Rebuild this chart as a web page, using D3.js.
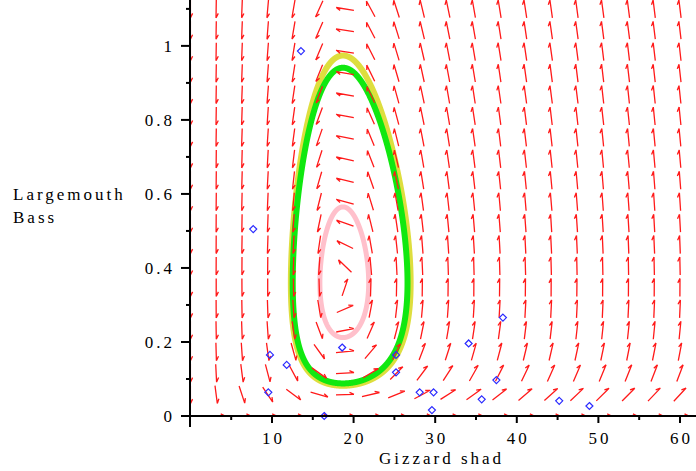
<!DOCTYPE html>
<html>
<head>
<meta charset="utf-8">
<script src="https://cdn.jsdelivr.net/npm/d3@7"></script>
<style>
  html, body { margin: 0; padding: 0; background: #fff; }
  svg text { font-family: "Liberation Serif", "Times New Roman", serif; font-size: 17px; fill: #000; letter-spacing: 3px; }
</style>
</head>
<body>
<svg id="chart" width="696" height="471"></svg>
<script>
// observed counts (blue diamonds)
const shad = [13.55, 7.7, 9.75, 11.8, 9.55, 16.4, 18.6, 25.2, 25.2, 28.1, 29.8, 29.6, 34.1, 35.7, 37.5, 38.3, 45.2, 48.9];
const bass = [0.986, 0.505, 0.165, 0.138, 0.064, 0.0, 0.185, 0.165, 0.118, 0.064, 0.064, 0.016, 0.196, 0.045, 0.097, 0.266, 0.041, 0.027];

// predator-prey model: dG = G(a - bB), dB = B(-c + dG)
const shadStar = 18.7, bassStar = 0.36;
const a = 1, c = 9.3;
const b = a / bassStar, d = c / shadStar;

// start points of the three solution curves (at G = shadStar)
const orbitStartB = [0.974, 0.941, 0.565];
const orbitColor = ['#dede3e', '#10e810', '#ffc0cb'];
const orbitWidth = [6, 6, 5];

const xMajor = [10, 20, 30, 40, 50, 60];
const xMinor = [5, 15, 25, 35, 45, 55];
const yMajor = [0, 0.2, 0.4, 0.6, 0.8, 1];
const yMinor = [0.1, 0.3, 0.5, 0.7, 0.9, 1.1];
const yLabels = ['0', '0.2', '0.4', '0.6', '0.8', '1'];

const svg = d3.select('#chart');
const x = d3.scaleLinear().domain([0, 62]).range([190.4, 696.3]);
const y = d3.scaleLinear().domain([0, 1.124]).range([416, 0]);

function deriv(G, B) {
  return [G * (a - b * B), B * (-c + d * G)];
}

function orbit(G0, B0) {
  let G = G0, B = B0, dt = 0.0005;
  const pts = [[G, B]];
  let prev = Math.atan2(B / bassStar - 1, G / shadStar - 1), turned = 0;
  for (let k = 0; k < 60000; k++) {
    const k1 = deriv(G, B);
    const k2 = deriv(G + dt / 2 * k1[0], B + dt / 2 * k1[1]);
    const k3 = deriv(G + dt / 2 * k2[0], B + dt / 2 * k2[1]);
    const k4 = deriv(G + dt * k3[0], B + dt * k3[1]);
    G += dt / 6 * (k1[0] + 2 * k2[0] + 2 * k3[0] + k4[0]);
    B += dt / 6 * (k1[1] + 2 * k2[1] + 2 * k3[1] + k4[1]);
    pts.push([G, B]);
    const th = Math.atan2(B / bassStar - 1, G / shadStar - 1);
    let dth = th - prev;
    if (dth > Math.PI) dth -= 2 * Math.PI;
    if (dth < -Math.PI) dth += 2 * Math.PI;
    turned += dth; prev = th;
    if (Math.abs(turned) >= 2 * Math.PI) break;
  }
  return pts;
}

const line = d3.line().x(p => x(p[0])).y(p => y(p[1]));

// solution curves
orbitStartB.forEach((B0, i) => {
  svg.append('path')
    .attr('d', line(orbit(shadStar, B0)) + 'Z')
    .attr('fill', 'none')
    .attr('stroke', orbitColor[i])
    .attr('stroke-width', orbitWidth[i])
    .attr('stroke-linejoin', 'round');
});

// direction field, 20 x 20 grid over 0..60, 0..1.1
const gridX = d3.range(20).map(i => i * 60 / 19);
const gridY = d3.range(20).map(j => j * 1.1 / 19);
const kx = x(1) - x(0), ky = y(0) - y(1);
const L = 18;
let field = '';
gridX.forEach(G => {
  gridY.forEach(B => {
    const v = deriv(G, B);
    const vx = v[0] * kx, vy = -v[1] * ky;
    const n = Math.hypot(vx, vy);
    if (n === 0) return;
    const ux = vx / n, uy = vy / n;
    const px = x(G), py = y(B);
    const tx = px + ux * L / 2, ty = py + uy * L / 2;
    const sx = px - ux * L / 2, sy = py - uy * L / 2;
    const bx = tx - ux * 4.5 + uy * 2.2, by = ty - uy * 4.5 - ux * 2.2;
    field += `M${sx.toFixed(1)},${sy.toFixed(1)}L${tx.toFixed(1)},${ty.toFixed(1)}M${tx.toFixed(1)},${ty.toFixed(1)}L${bx.toFixed(1)},${by.toFixed(1)}`;
  });
});
svg.append('path')
  .attr('d', field)
  .attr('fill', 'none')
  .attr('stroke', '#ff1a1a')
  .attr('stroke-width', 1.3);

// data points
svg.selectAll('path.pt')
  .data(shad.map((s, i) => [s, bass[i]]))
  .enter().append('path')
  .attr('class', 'pt')
  .attr('transform', p => `translate(${x(p[0])},${y(p[1])})`)
  .attr('d', 'M0,-3.5L3.5,0L0,3.5L-3.5,0Z')
  .attr('fill', 'none')
  .attr('stroke', '#2a2aff')
  .attr('stroke-width', 1.2);

// axes
const ax = svg.append('g').attr('stroke', '#000').attr('stroke-width', 2);
ax.append('line').attr('x1', 190).attr('x2', 190).attr('y1', 0).attr('y2', 427);
ax.append('line').attr('x1', 188).attr('x2', 696).attr('y1', 416).attr('y2', 416);
xMajor.forEach(v => ax.append('line').attr('x1', x(v)).attr('x2', x(v)).attr('y1', 416).attr('y2', 423));
xMinor.forEach(v => ax.append('line').attr('x1', x(v)).attr('x2', x(v)).attr('y1', 416).attr('y2', 420));
yMajor.forEach(v => ax.append('line').attr('x1', 181).attr('x2', 190).attr('y1', y(v)).attr('y2', y(v)));
yMinor.forEach(v => ax.append('line').attr('x1', 186).attr('x2', 190).attr('y1', y(v)).attr('y2', y(v)));

const ls = 3;
xMajor.forEach(v => svg.append('text')
  .attr('x', x(v) + ls / 2).attr('y', 444)
  .attr('text-anchor', 'middle').text(v));
yMajor.forEach((v, i) => svg.append('text')
  .attr('x', 172 + ls).attr('y', y(v) + 6)
  .attr('text-anchor', 'end').text(yLabels[i]));

svg.append('text').attr('x', 440 + ls / 2).attr('y', 464).attr('text-anchor', 'middle').text('Gizzard shad');
svg.append('text').attr('x', 13).attr('y', 200).text('Largemouth');
svg.append('text').attr('x', 13).attr('y', 223).text('Bass');
</script>
</body>
</html>
